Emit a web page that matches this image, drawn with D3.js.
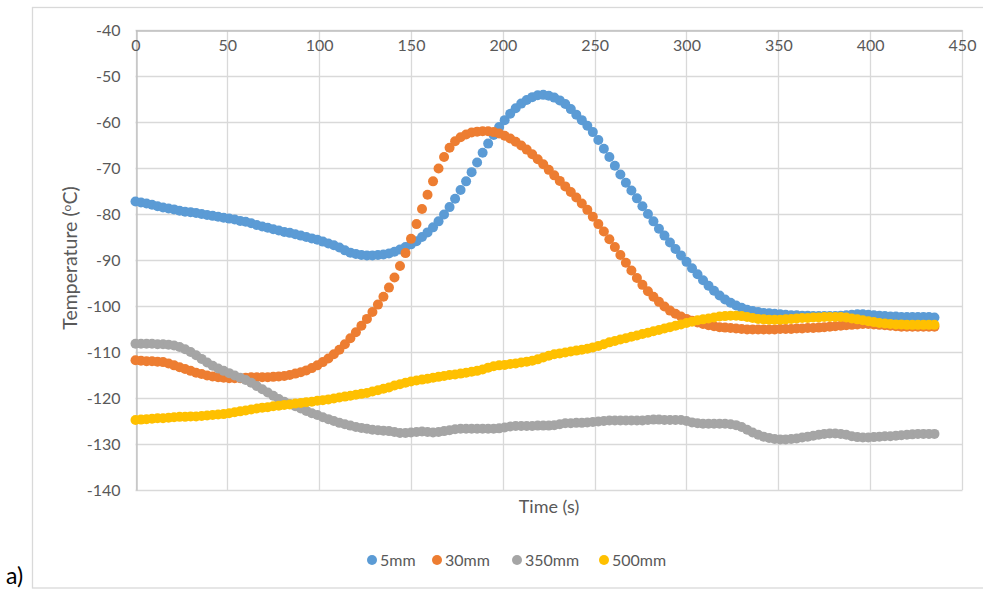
<!DOCTYPE html>
<html>
<head>
<meta charset="utf-8">
<script src="https://cdn.jsdelivr.net/npm/d3@7/dist/d3.min.js"></script>
<style>
  html, body { margin: 0; padding: 0; background: #fff; }
  svg { display: block; font-family: Lato, "Open Sans", sans-serif; }
</style>
</head>
<body>
<svg id="chart" width="983" height="591"></svg>
<script>
// Sampling: one reading every 3 s from 0 to 435 s
const sampleStep = 3;
const times = d3.range(0, 436, sampleStep);

const seriesNames = ["5mm", "30mm", "350mm", "500mm"];
const seriesColors = ["#5B9BD5", "#ED7D31", "#A5A5A5", "#FFC000"];

const temp5mm = [
  -77.3, -77.5, -77.7, -78.0, -78.3, -78.6, -78.8, -79.0, -79.3, -79.5,
  -79.6, -79.8, -80.0, -80.2, -80.4, -80.6, -80.8, -81.0, -81.2, -81.5,
  -81.7, -82.0, -82.4, -82.7, -83.0, -83.3, -83.6, -83.9, -84.1, -84.4,
  -84.7, -85.0, -85.3, -85.6, -86.0, -86.4, -86.8, -87.3, -87.9, -88.4,
  -88.7, -88.9, -89.0, -89.0, -88.9, -88.8, -88.6, -88.2, -87.7, -87.2,
  -86.6, -85.9, -85.0, -84.0, -82.9, -81.6, -80.1, -78.5, -76.7, -74.8,
  -72.9, -70.9, -68.8, -66.7, -64.7, -62.8, -61.1, -59.6, -58.2, -57.0,
  -56.0, -55.2, -54.6, -54.2, -54.1, -54.3, -54.7, -55.3, -56.1, -57.2,
  -58.4, -59.6, -60.8, -62.2, -63.9, -65.8, -67.6, -69.5, -71.4, -73.2,
  -74.9, -76.6, -78.3, -80.0, -81.6, -83.2, -84.7, -86.2, -87.6, -89.0,
  -90.4, -91.8, -93.1, -94.4, -95.6, -96.7, -97.7, -98.6, -99.3, -99.9,
  -100.4, -100.8, -101.1, -101.3, -101.5, -101.6, -101.7, -101.8, -101.9, -102.0,
  -102.0, -102.1, -102.1, -102.2, -102.2, -102.2, -102.2, -102.2, -102.1, -102.0,
  -101.9, -101.8, -101.8, -101.9, -102.0, -102.1, -102.2, -102.3, -102.3, -102.4,
  -102.4, -102.4, -102.4, -102.4, -102.4, -102.5
];

const temp30mm = [
  -111.8, -111.9, -112.0, -112.0, -112.1, -112.2, -112.5, -112.9, -113.3, -113.7,
  -114.1, -114.5, -114.8, -115.1, -115.3, -115.5, -115.6, -115.7, -115.7, -115.7,
  -115.6, -115.5, -115.5, -115.5, -115.5, -115.4, -115.3, -115.2, -115.0, -114.7,
  -114.4, -114.0, -113.5, -112.9, -112.2, -111.4, -110.5, -109.5, -108.3, -107.0,
  -105.7, -104.3, -102.8, -101.3, -99.7, -98.0, -96.0, -93.8, -91.3, -88.5,
  -85.4, -82.2, -78.9, -75.8, -72.9, -70.1, -67.6, -65.6, -64.2, -63.3,
  -62.7, -62.3, -62.1, -62.0, -62.0, -62.2, -62.5, -63.0, -63.6, -64.3,
  -65.1, -66.0, -67.0, -68.1, -69.2, -70.4, -71.6, -72.8, -74.0, -75.2,
  -76.4, -77.7, -79.1, -80.6, -82.2, -83.8, -85.5, -87.2, -88.9, -90.6,
  -92.3, -93.9, -95.4, -96.8, -98.0, -99.1, -100.1, -101.0, -101.7, -102.3,
  -102.8, -103.2, -103.6, -103.9, -104.2, -104.4, -104.6, -104.7, -104.8, -104.9,
  -105.0, -105.1, -105.1, -105.1, -105.1, -105.1, -105.1, -105.0, -105.0, -105.0,
  -104.9, -104.9, -104.8, -104.8, -104.7, -104.6, -104.5, -104.4, -104.3, -104.2,
  -104.1, -104.0, -103.9, -103.9, -104.0, -104.1, -104.2, -104.3, -104.4, -104.5,
  -104.5, -104.5, -104.5, -104.5, -104.5, -104.5
];

const temp350mm = [
  -108.2, -108.2, -108.2, -108.2, -108.3, -108.3, -108.4, -108.6, -108.9, -109.4,
  -110.0, -110.7, -111.5, -112.3, -113.0, -113.6, -114.1, -114.6, -115.1, -115.6,
  -116.1, -116.7, -117.4, -118.1, -118.8, -119.5, -120.2, -120.8, -121.3, -121.8,
  -122.3, -122.8, -123.3, -123.7, -124.2, -124.6, -125.0, -125.4, -125.7, -126.0,
  -126.3, -126.5, -126.7, -126.9, -127.0, -127.1, -127.2, -127.4, -127.6, -127.6,
  -127.5, -127.4, -127.3, -127.4, -127.5, -127.4, -127.2, -127.0, -126.8, -126.7,
  -126.7, -126.7, -126.7, -126.7, -126.7, -126.7, -126.6, -126.4, -126.2, -126.1,
  -126.1, -126.1, -126.1, -126.0, -126.0, -126.0, -125.9, -125.7, -125.5, -125.5,
  -125.4, -125.4, -125.3, -125.2, -125.1, -125.0, -124.9, -124.9, -124.9, -124.9,
  -124.9, -124.9, -124.9, -124.8, -124.7, -124.7, -124.8, -124.8, -124.8, -124.8,
  -125.0, -125.3, -125.5, -125.6, -125.6, -125.6, -125.6, -125.6, -125.7, -125.9,
  -126.3, -126.9, -127.5, -128.0, -128.4, -128.7, -128.9, -129.0, -129.0, -128.9,
  -128.8, -128.6, -128.4, -128.2, -128.0, -127.8, -127.7, -127.7, -127.8, -128.0,
  -128.3, -128.5, -128.6, -128.6, -128.5, -128.4, -128.3, -128.3, -128.2, -128.1,
  -128.0, -127.9, -127.8, -127.8, -127.8, -127.8
];

const temp500mm = [
  -124.8, -124.7, -124.6, -124.5, -124.4, -124.4, -124.3, -124.2, -124.1, -124.1,
  -124.0, -124.0, -123.9, -123.8, -123.7, -123.6, -123.5, -123.3, -123.1, -122.9,
  -122.7, -122.5, -122.3, -122.1, -122.0, -121.8, -121.7, -121.5, -121.4, -121.2,
  -121.1, -120.9, -120.8, -120.6, -120.5, -120.3, -120.1, -119.9, -119.7, -119.5,
  -119.3, -119.1, -118.9, -118.6, -118.3, -118.0, -117.7, -117.3, -117.0, -116.7,
  -116.4, -116.2, -116.0, -115.8, -115.6, -115.4, -115.2, -115.0, -114.9, -114.7,
  -114.5, -114.3, -114.1, -113.8, -113.4, -113.1, -112.9, -112.8, -112.6, -112.5,
  -112.3, -112.1, -111.9, -111.6, -111.2, -110.8, -110.5, -110.3, -110.1, -109.9,
  -109.7, -109.5, -109.3, -109.0, -108.7, -108.3, -107.9, -107.6, -107.3, -107.0,
  -106.7, -106.4, -106.1, -105.8, -105.5, -105.2, -104.9, -104.6, -104.3, -104.0,
  -103.7, -103.4, -103.1, -102.9, -102.7, -102.5, -102.3, -102.2, -102.1, -102.1,
  -102.2, -102.4, -102.6, -102.8, -102.9, -103.0, -103.0, -103.0, -102.9, -102.8,
  -102.7, -102.6, -102.6, -102.5, -102.5, -102.4, -102.4, -102.4, -102.4, -102.5,
  -102.7, -102.9, -103.1, -103.3, -103.5, -103.7, -103.8, -103.9, -104.0, -104.0,
  -104.1, -104.1, -104.1, -104.1, -104.1, -104.1
];

const xTicks = [0, 50, 100, 150, 200, 250, 300, 350, 400, 450];
const yTicks = [-40, -50, -60, -70, -80, -90, -100, -110, -120, -130, -140];

const seriesValues = [temp5mm, temp30mm, temp350mm, temp500mm];

const svg = d3.select("#chart");
const W = 983;
const plot = { left: 135.5, right: 962, top: 30, bottom: 490 };

const x = d3.scaleLinear().domain([0, 450]).range([plot.left, plot.right]);
const y = d3.scaleLinear().domain([-140, -40]).range([plot.bottom, plot.top]);

const gridColor = "#D9D9D9";
const textColor = "#595959";
const plainNumber = d => String(d);

// chart frame
svg.append("rect")
  .attr("x", 32.5).attr("y", 7.5)
  .attr("width", W - 32.5 + 5).attr("height", 588 - 7.5)
  .attr("fill", "#fff").attr("stroke", gridColor).attr("stroke-width", 1.3);

// gridlines
const grid = svg.append("g");
grid.selectAll("line.v").data(xTicks).join("line")
  .attr("x1", d => Math.round(x(d)) + 0.5).attr("x2", d => Math.round(x(d)) + 0.5)
  .attr("y1", plot.top).attr("y2", plot.bottom)
  .attr("stroke", gridColor).attr("stroke-width", 1.3);
grid.selectAll("line.h").data(yTicks).join("line")
  .attr("x1", plot.left).attr("x2", x(450) + 0.5)
  .attr("y1", d => Math.round(y(d)) + 0.5).attr("y2", d => Math.round(y(d)) + 0.5)
  .attr("stroke", gridColor).attr("stroke-width", 1.3);

// axes: y axis on the left, x axis crossing at the top of the range
const yAxis = d3.axisLeft(y).tickValues(yTicks).tickSize(0).tickPadding(16).tickFormat(plainNumber);
const gy = svg.append("g").attr("transform", `translate(${Math.round(plot.left) + 0.5},0)`).call(yAxis);
gy.select(".domain").attr("stroke", "#BFBFBF").attr("stroke-width", 1.3);
gy.selectAll("text").attr("fill", textColor).style("font-size", "16px")
  .style("font-family", "Lato, sans-serif").attr("dy", "0.35em");

const xAxis = d3.axisBottom(x).tickValues(xTicks).tickSize(0).tickPadding(9).tickFormat(plainNumber);
const gx = svg.append("g").attr("transform", `translate(0,${plot.top + 0.5})`).call(xAxis);
gx.select(".domain").attr("stroke", "#BFBFBF").attr("stroke-width", 1.3);
gx.selectAll("text").attr("fill", textColor).style("font-size", "16px")
  .style("font-family", "Lato, sans-serif");

// axis titles
svg.append("text")
  .attr("transform", `translate(77,${(plot.top + plot.bottom) / 2 - 2}) rotate(-90)`)
  .attr("text-anchor", "middle").attr("fill", textColor)
  .style("font-size", "19.5px")
  .html('Temperature (<tspan dy="-6" font-size="12px">o</tspan><tspan dy="6">C)</tspan>');

svg.append("text")
  .attr("x", 549).attr("y", 513)
  .attr("text-anchor", "middle").attr("fill", textColor)
  .style("font-size", "18px")
  .text("Time (s)");

// scatter markers, drawn series by series
const markerR = 5;
seriesValues.forEach((vals, si) => {
  const pts = times.map((t, i) => ({ t, v: vals[i] }));
  svg.append("g")
    .selectAll("circle").data(pts).join("circle")
    .attr("cx", d => x(d.t)).attr("cy", d => y(d.v))
    .attr("r", markerR)
    .attr("fill", seriesColors[si]);
});

// legend
const legendX = [372, 437, 517, 604];
const legend = svg.append("g");
seriesNames.forEach((name, i) => {
  legend.append("circle").attr("cx", legendX[i]).attr("cy", 560).attr("r", 5).attr("fill", seriesColors[i]);
  legend.append("text").attr("x", legendX[i] + 8).attr("y", 565.5)
    .attr("fill", textColor).style("font-size", "16px").text(name);
});

// panel label
svg.append("text").attr("x", 6).attr("y", 584)
  .attr("fill", "#000").style("font-size", "23px").text("a)");
</script>
</body>
</html>
